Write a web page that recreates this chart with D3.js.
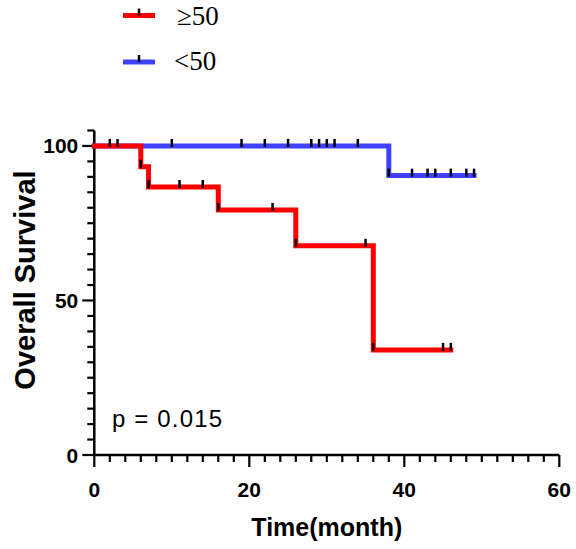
<!DOCTYPE html>
<html><head><meta charset="utf-8">
<script src="https://cdn.jsdelivr.net/npm/d3@7"></script>
<style>body{margin:0;background:#fff}svg{display:block}</style>
</head><body>
<svg id="c" width="576" height="549"></svg>
<script>
// Data
const groups = ["≥50", "<50"];
const colors = ["#FF0000", "#4040FF"];
// event times and survival (%) after each step
const redTimes = [0, 6, 7, 16, 26, 36];
const redSurv  = [100, 93.3, 86.7, 79.3, 67.7, 34.0];
const redEnd = 46;
const redCensor = [2, 3, 6, 7, 11, 14, 16, 23, 26, 35, 36, 45, 46];
const blueTimes = [0, 38];
const blueSurv  = [100, 90.4];
const blueEnd = 49;
const blueCensor = [10, 19, 22, 25, 28, 29, 30, 31, 34, 38, 41, 43, 44, 46, 48, 49];
const xTicks = [0, 20, 40, 60];
const yTicks = [0, 50, 100];
const pText = "p = 0.015";

const svg = d3.select("#c");
const x = d3.scaleLinear().domain([0, 60]).range([94.3, 559.3]);
const y = d3.scaleLinear().domain([0, 105]).range([455, 130.5]);

// axes
const xMinor = d3.range(0, 61, 2);
const yMinor = d3.range(0, 106, 5);
const gx = svg.append("g").attr("transform", "translate(0,455)");
gx.append("line").attr("x1", x(0)).attr("x2", x(60)).attr("stroke", "#000").attr("stroke-width", 2.5);
gx.selectAll("line.mt").data(xMinor).join("line").attr("class","mt")
  .attr("x1", d => x(d)).attr("x2", d => x(d)).attr("y1", 0)
  .attr("y2", d => xTicks.includes(d) ? 12 : 7).attr("stroke", "#000").attr("stroke-width", 2.2);
gx.selectAll("text").data(xTicks).join("text")
  .attr("x", d => x(d)).attr("y", 42).attr("text-anchor", "middle")
  .attr("font-family", "Liberation Sans, Arial, sans-serif").attr("font-weight", "bold")
  .attr("font-size", 21).text(d => d);

const gy = svg.append("g").attr("transform", "translate(94.3,0)");
gy.append("line").attr("y1", y(0)).attr("y2", y(105)).attr("stroke", "#000").attr("stroke-width", 2.5);
gy.selectAll("line.mt").data(yMinor).join("line").attr("class","mt")
  .attr("y1", d => y(d)).attr("y2", d => y(d)).attr("x1", 0)
  .attr("x2", d => yTicks.includes(d) ? -12 : -7).attr("stroke", "#000").attr("stroke-width", 2.2);
gy.selectAll("text").data(yTicks).join("text")
  .attr("x", -16).attr("y", d => y(d) + 7.5).attr("text-anchor", "end")
  .attr("font-family", "Liberation Sans, Arial, sans-serif").attr("font-weight", "bold")
  .attr("font-size", 21).text(d => d);

// titles
svg.append("text").attr("x", x(30)).attr("y", 536).attr("text-anchor", "middle")
  .attr("font-family", "Liberation Sans, Arial, sans-serif").attr("font-weight", "bold")
  .attr("font-size", 25).text("Time(month)");
svg.append("text").attr("transform", "translate(25,280) rotate(-90)").attr("text-anchor", "middle")
  .attr("dy", "0.35em")
  .attr("font-family", "Liberation Sans, Arial, sans-serif").attr("font-weight", "bold")
  .attr("font-size", 29).text("Overall Survival");

// curves
function stepPts(times, surv, end) {
  const pts = [];
  times.forEach((t, i) => {
    if (i > 0) pts.push([t, surv[i - 1]]);
    pts.push([t, surv[i]]);
  });
  pts.push([end, surv[surv.length - 1]]);
  return pts;
}
function survAt(times, surv, t) {
  let v = surv[0];
  times.forEach((tt, i) => { if (tt <= t) v = surv[i]; });
  return v;
}
const line = d3.line().x(d => x(d[0])).y(d => y(d[1]));
const series = [
  {times: blueTimes, surv: blueSurv, end: blueEnd, cens: blueCensor, color: colors[1]},
  {times: redTimes, surv: redSurv, end: redEnd, cens: redCensor, color: colors[0]}
];
series.forEach(s => {
  svg.append("path").attr("d", line(stepPts(s.times, s.surv, s.end)))
    .attr("fill", "none").attr("stroke", s.color).attr("stroke-width", 5)
    .attr("stroke-linejoin", "miter").attr("stroke-linecap", "square");
});
series.forEach(s => {
  svg.selectAll(null).data(s.cens).join("line")
    .attr("x1", d => x(d)).attr("x2", d => x(d))
    .attr("y1", d => y(survAt(s.times, s.surv, d)) - 7)
    .attr("y2", d => y(survAt(s.times, s.surv, d)) + 1)
    .attr("stroke", "#000").attr("stroke-width", 2.5);
});

// p value
svg.append("text").attr("x", 112).attr("y", 427)
  .attr("font-family", "Liberation Sans, Arial, sans-serif").attr("font-size", 24)
  .attr("textLength", 110).attr("lengthAdjust", "spacing")
  .text(pText);

// legend
const leg = svg.append("g");
[15.5, 62].forEach((ly, i) => {
  leg.append("line").attr("x1", 123).attr("x2", 155).attr("y1", ly).attr("y2", ly)
    .attr("stroke", colors[i]).attr("stroke-width", 5);
  leg.append("line").attr("x1", 139).attr("x2", 139).attr("y1", ly - 7).attr("y2", ly)
    .attr("stroke", "#000").attr("stroke-width", 2.5);
  leg.append("text").attr("x", i === 0 ? 177 : 174).attr("y", i === 0 ? 25 : 70)
    .attr("font-family", "Liberation Serif, Times New Roman, serif").attr("font-size", 27)
    .text(groups[i]);
});
</script>
</body></html>
